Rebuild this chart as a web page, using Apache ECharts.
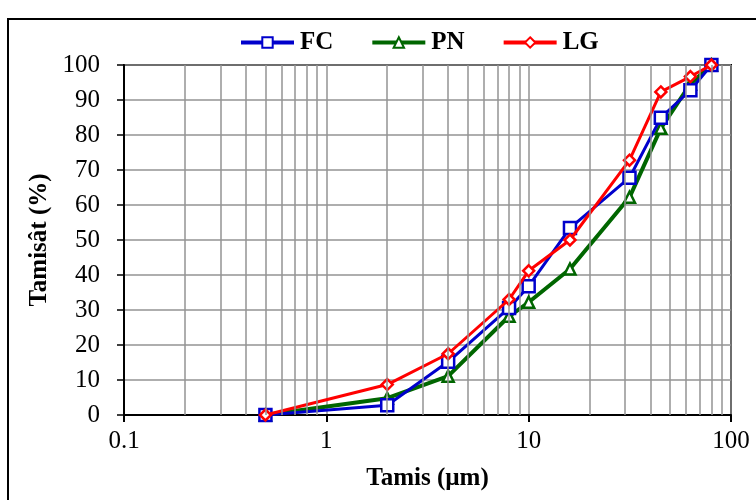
<!DOCTYPE html>
<html>
<head>
<meta charset="utf-8">
<script src="https://cdn.jsdelivr.net/npm/echarts@6/dist/echarts.min.js"></script>
<style>
  html, body { margin: 0; padding: 0; background: #fff; }
  #chart { width: 756px; height: 500px; }
</style>
</head>
<body>
<div id="chart"></div>
<script>
// Sieve sizes (µm) and cumulative passing (%) for each sample
const sieves = [0.5, 2, 4, 8, 10, 16, 31.5, 45, 63, 80];
const fcValues = [0, 2.8, 15.2, 30.6, 36.8, 53.4, 67.8, 84.9, 92.8, 100];
const pnValues = [0, 4.8, 11.1, 28.2, 32.2, 41.7, 62.2, 81.9, 94.6, 100];
const lgValues = [0, 8.7, 17.5, 33.0, 41.2, 50.0, 72.8, 92.3, 96.7, 100];
const seriesNames = ['FC', 'PN', 'LG'];
const xTickLabels = ['0.1', '1', '10', '100'];
// Intermediate log-decade grid lines
const minorGrid = [0.2, 0.3, 0.4, 0.5, 0.6, 0.7, 0.8, 0.9,
                   2, 3, 4, 5, 6, 7, 8, 9,
                   20, 30, 40, 50, 60, 70, 80, 90];

const serif = '"Liberation Serif", "Times New Roman", serif';
const gridGray = '#939393';
const pair = (vals) => sieves.map((s, i) => [s, vals[i]]);

const chart = echarts.init(document.getElementById('chart'), null, { renderer: 'canvas' });

const lineSeries = (name, vals, color, symbol, size, width, z) => ({
  name: name,
  type: 'line',
  data: pair(vals),
  z: z,
  symbol: symbol,
  symbolSize: size,
  showAllSymbol: true,
  lineStyle: { color: color, width: width },
  itemStyle: { color: '#fff', borderColor: color, borderWidth: 2.5 },
  emphasis: { disabled: true },
  animation: false
});

chart.setOption({
  animation: false,
  backgroundColor: '#fff',
  graphic: [{
    type: 'rect',
    shape: { x: 8, y: 19, width: 800, height: 520 },
    style: { fill: 'none', stroke: '#000', lineWidth: 2 },
    silent: true, z: -1
  }],
  legend: {
    top: 25,
    left: 234,
    itemWidth: 53,
    itemHeight: 13,
    itemGap: 37,
    data: seriesNames,
    lineStyle: { width: 4 },
    textStyle: { fontFamily: serif, fontWeight: 'bold', fontSize: 25, color: '#000', padding: [0, 0, 0, 1] }
  },
  grid: {
    left: 124, right: 25, top: 65, bottom: 85,
    show: true, borderColor: '#000', borderWidth: 2, backgroundColor: 'transparent'
  },
  xAxis: {
    type: 'log',
    logBase: 10,
    min: 0.1,
    max: 100,
    name: 'Tamis (µm)',
    nameLocation: 'middle',
    nameGap: 51,
    nameTextStyle: { fontFamily: serif, fontWeight: 'bold', fontSize: 25, color: '#000' },
    axisLine: { lineStyle: { color: '#000', width: 2 } },
    axisTick: { show: true, length: 7, lineStyle: { color: '#000', width: 2 } },
    axisLabel: {
      margin: 14,
      fontFamily: serif, fontSize: 25, color: '#000',
      formatter: (v) => {
        const idx = Math.round(Math.log10(v)) + 1;
        return xTickLabels[idx] !== undefined ? xTickLabels[idx] : '';
      }
    },
    splitLine: { show: true, lineStyle: { color: gridGray, width: 1.5 } },
    minorTick: { show: false },
    minorSplitLine: { show: false }
  },
  yAxis: {
    type: 'value',
    min: 0,
    max: 100,
    interval: 10,
    name: 'Tamisât (%)',
    nameLocation: 'middle',
    nameGap: 61,
    nameTextStyle: { fontFamily: serif, fontWeight: 'bold', fontSize: 25, color: '#000' },
    axisLine: { show: true, lineStyle: { color: '#000', width: 2 } },
    axisTick: { show: true, length: 7, lineStyle: { color: '#000', width: 1.5 } },
    axisLabel: { margin: 24, fontFamily: serif, fontSize: 25, color: '#000' },
    splitLine: { show: true, lineStyle: { color: gridGray, width: 1.5 } }
  },
  series: [
    {
      name: 'minor-grid',
      type: 'line',
      data: [],
      z: 1,
      silent: true,
      markLine: {
        silent: true,
        symbol: 'none',
        label: { show: false },
        lineStyle: { color: gridGray, width: 1.5, type: 'solid' },
        emphasis: { disabled: true },
        data: minorGrid.map((v) => ({ xAxis: v })),
        animation: false
      }
    },
    lineSeries('FC', fcValues, '#0000cc', 'rect', 12, 3, 3),
    lineSeries('PN', pnValues, '#006600', 'triangle', 11, 4, 2),
    lineSeries('LG', lgValues, '#ff0000', 'diamond', 11, 3, 4)
  ]
});
</script>
</body>
</html>
